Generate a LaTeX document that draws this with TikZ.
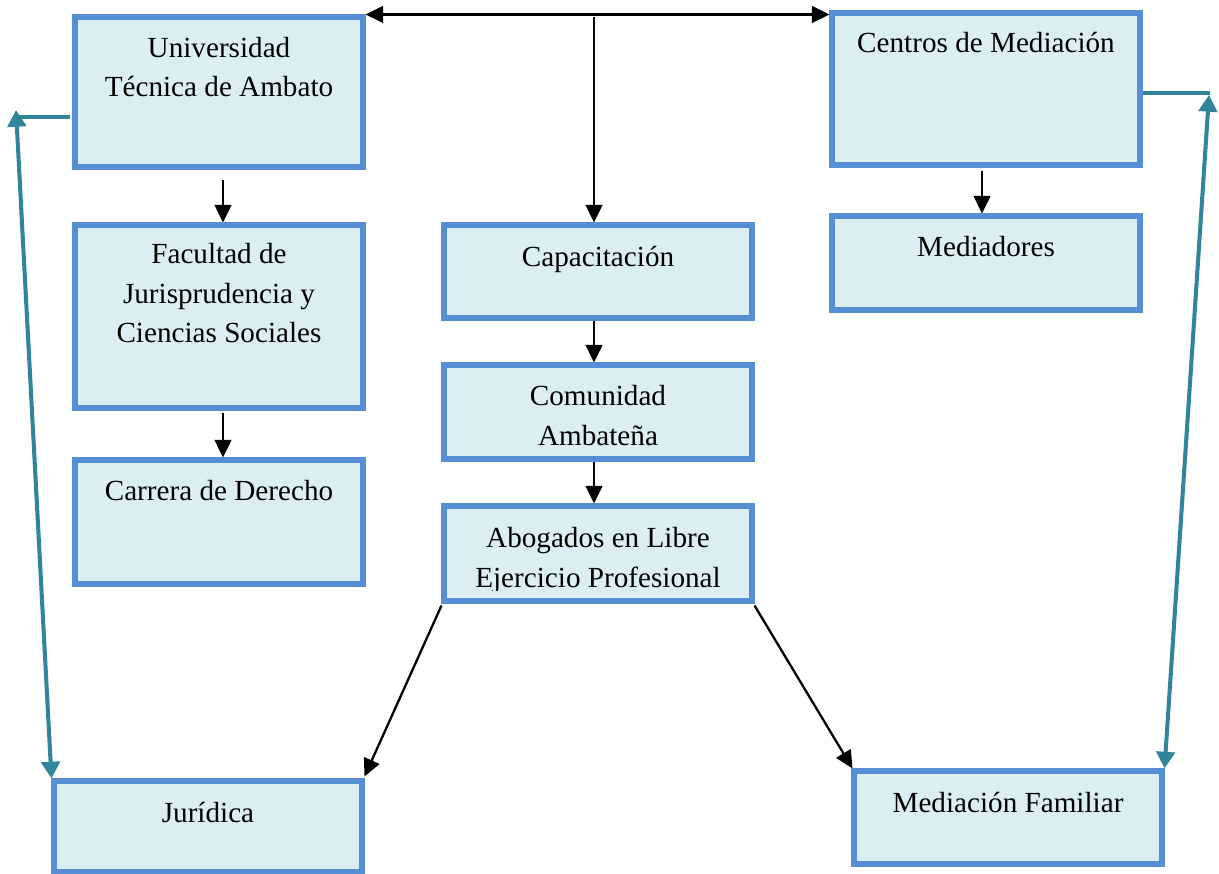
\documentclass[tikz,border=0pt]{standalone}
\usepackage{fontspec}
\setmainfont{Liberation Serif}
\usetikzlibrary{arrows.meta,calc}
\definecolor{boxfill}{RGB}{219,238,244}
\definecolor{boxline}{RGB}{85,142,213}
\definecolor{tealline}{RGB}{49,133,155}
\begin{document}
\begin{tikzpicture}[x=0.02cm,y=-0.02cm,
  box/.style={draw=boxline,fill=boxfill,line width=2.9pt,inner sep=0pt,rectangle},
  txt/.style={font=\fontsize{16.6}{22.5}\selectfont,align=center,inner sep=0pt,anchor=base},
  blk/.style={line width=1.3pt,-{Triangle[length=10pt,width=9.5pt]}},
  blkboth/.style={line width=1.3pt,{Triangle[length=10pt,width=9.5pt]}-{Triangle[length=10pt,width=9.5pt]}},
  tl/.style={draw=tealline,line width=2.3pt},
  tlboth/.style={draw=tealline,line width=2.3pt,{Triangle[length=9.5pt,width=10.5pt]}-{Triangle[length=9.5pt,width=10.5pt]}}]
\useasboundingbox (0,0) rectangle (1219,874);
% boxes
\node[box,minimum width=5.76cm,minimum height=3.00cm] (uta) at (219,92) {};
\node[box,minimum width=5.76cm,minimum height=3.66cm] (fac) at (219,316.5) {};
\node[box,minimum width=5.76cm,minimum height=2.48cm] (car) at (219,522) {};
\node[box,minimum width=6.16cm,minimum height=1.86cm] (cap) at (598,271.5) {};
\node[box,minimum width=6.16cm,minimum height=1.88cm] (com) at (598,412) {};
\node[box,minimum width=6.16cm,minimum height=1.90cm] (abog) at (598,553.5) {};
\node[box,minimum width=6.16cm,minimum height=3.04cm] (cen) at (986,89) {};
\node[box,minimum width=6.16cm,minimum height=1.88cm] (med) at (986,263) {};
\node[box,minimum width=6.16cm,minimum height=1.82cm] (jur) at (208,826.5) {};
\node[box,minimum width=6.16cm,minimum height=1.86cm] (mfam) at (1008,817.5) {};
% texts (anchor = baseline of the last line)
\node[txt] (tuta) at (219,97) {Universidad\\Técnica de Ambato};
\node[txt] (tfac) at (219,343) {Facultad de\\Jurisprudencia y\\Ciencias Sociales};
\node[txt] (tcar) at (219,500) {Carrera de Derecho};
\node[txt] (tcap) at (598,267) {Capacitación};
\node[txt] (tcom) at (598,445) {Comunidad\\Ambateña};
\begin{scope}
\clip (446,508) rectangle (750,590);
\node[txt] (tabog) at (598,587) {Abogados en Libre\\Ejercicio Profesional};
\end{scope}
\node[txt] (tcen) at (986,53) {Centros de Mediación};
\node[txt] (tmed) at (986,257) {Mediadores};
\node[txt] (tjur) at (208,822) {Jurídica};
\node[txt] (tmfam) at (1008,812) {Mediación Familiar};
% black connectors
\coordinate (topm) at (594,17);
\draw[blkboth] (uta.north east) -- (uta.north east -| cen.west);
\draw[blk] (topm) -- (topm |- cap.north);
\draw[blk] ($(uta.south)+(4,10)$) -- ($(fac.north)+(4,0)$);
\draw[blk] ($(fac.south)+(4,2)$) -- ($(car.north)+(4,0)$);
\draw[blk] ($(cap.south)+(-4,0)$) -- ($(com.north)+(-4,0)$);
\draw[blk] ($(com.south)+(-4,0)$) -- ($(abog.north)+(-4,0)$);
\draw[blk] ($(cen.south)+(-4,3)$) -- ($(med.north)+(-4,0)$);
\draw[blk] ($(abog.south west)+(0,2)$) -- ($(jur.north east)+(0,-2)$);
\draw[blk] ($(abog.south east)+(0,2)$) -- ($(mfam.north west)+(1,0)$);
% teal connectors
\coordinate (lup) at (16,110);
\coordinate (rup) at (1209,95);
\draw[tl] (70,117) -- (18,117);
\draw[tlboth] (lup) -- (jur.north west);
\draw[tl] (1143,93) -- (1210,93);
\draw[tlboth] (rup) -- (mfam.north east);
\end{tikzpicture}
\end{document}
